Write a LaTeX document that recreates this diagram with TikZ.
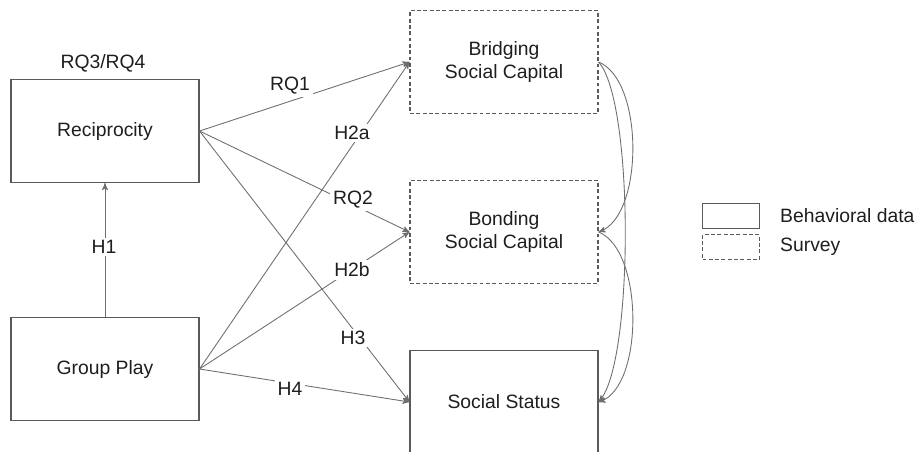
\documentclass[tikz,border=0pt]{standalone}
\usepackage{fontspec}
\setmainfont{Liberation Sans}
\usepackage{tikz}
\usetikzlibrary{arrows}
\usetikzlibrary{positioning}
\definecolor{linegray}{RGB}{110, 110, 110}
\definecolor{boxgray}{RGB}{90, 90, 90}
\definecolor{inkblack}{RGB}{30, 30, 30}
\tikzset{
    varbox/.style   = {draw=boxgray, line width=0.6pt, minimum width=3.76cm, minimum height=2.06cm,
                       align=center, text=inkblack, font=\fontsize{11}{13.5}\selectfont},
    surveybox/.style= {varbox, dash pattern=on 2.2pt off 1.4pt},
    legbox/.style   = {draw=boxgray, line width=0.6pt, minimum width=1.14cm, minimum height=0.5cm},
    path/.style     = {draw=linegray, line width=0.5pt, ->, >=stealth'},
    pathlabel/.style= {fill=white, inner sep=1.5pt, text=inkblack, font=\fontsize{11}{13}\selectfont},
    legtext/.style  = {anchor=west, text=inkblack, font=\fontsize{11}{13}\selectfont}
}

\begin{document}
\begin{tikzpicture}[x=0.02cm, y=-0.02cm]
            \useasboundingbox (0,0) rectangle (917,451);
            \node[varbox]    (rec)    at (105,131) {Reciprocity};
            \node[varbox]    (grp)    at (105,369) {Group Play};
            \node[surveybox] (bridge) at (504, 62) {Bridging\\Social Capital};
            \node[surveybox] (bond)   at (504,232) {Bonding\\Social Capital};
            \node[varbox]    (status) at (504,402) {Social Status};
            \node[text=inkblack, font=\fontsize{11}{13}\selectfont] (rqlab) at (103, 63) {RQ3/RQ4};

            \draw[path] (grp.north) -- (rec.south);
            \draw[path] (rec.east)  -- (bridge.west);
            \draw[path] (rec.east)  -- (bond.west);
            \draw[path] (rec.east)  -- (status.west);
            \draw[path] (grp.east)  -- (bridge.west);
            \draw[path] (grp.east)  -- (bond.west);
            \draw[path] (grp.east)  -- (status.west);

            \node[pathlabel] (lh1)  at (104,247) {H1};
            \node[pathlabel] (lrq1) at (290, 86) {RQ1};
            \node[pathlabel] (lh2a) at (352,133) {H2a};
            \node[pathlabel] (lrq2) at (353,200) {RQ2};
            \node[pathlabel] (lh2b) at (352,270) {H2b};
            \node[pathlabel] (lh3)  at (353,338) {H3};
            \node[pathlabel] (lh4)  at (290,389) {H4};

            \draw[path] (bridge.east) .. controls (644, 80) and (644,215) .. (bond.east);
            \draw[path] (bridge.east) .. controls (634,100) and (634,362) .. (status.east);
            \draw[path] (bond.east)   .. controls (644,250) and (644,387) .. (status.east);

            \node[legbox] (legsolid) at (731,216) {};
            \node[legbox, dash pattern=on 2.2pt off 1.4pt] (legdash) at (731,247) {};
            \node[legtext] (legsolidtxt) at (774,216) {Behavioral data};
            \node[legtext] (legdashtxt)  at (774,247) {Survey};
        \end{tikzpicture}
\end{document}
